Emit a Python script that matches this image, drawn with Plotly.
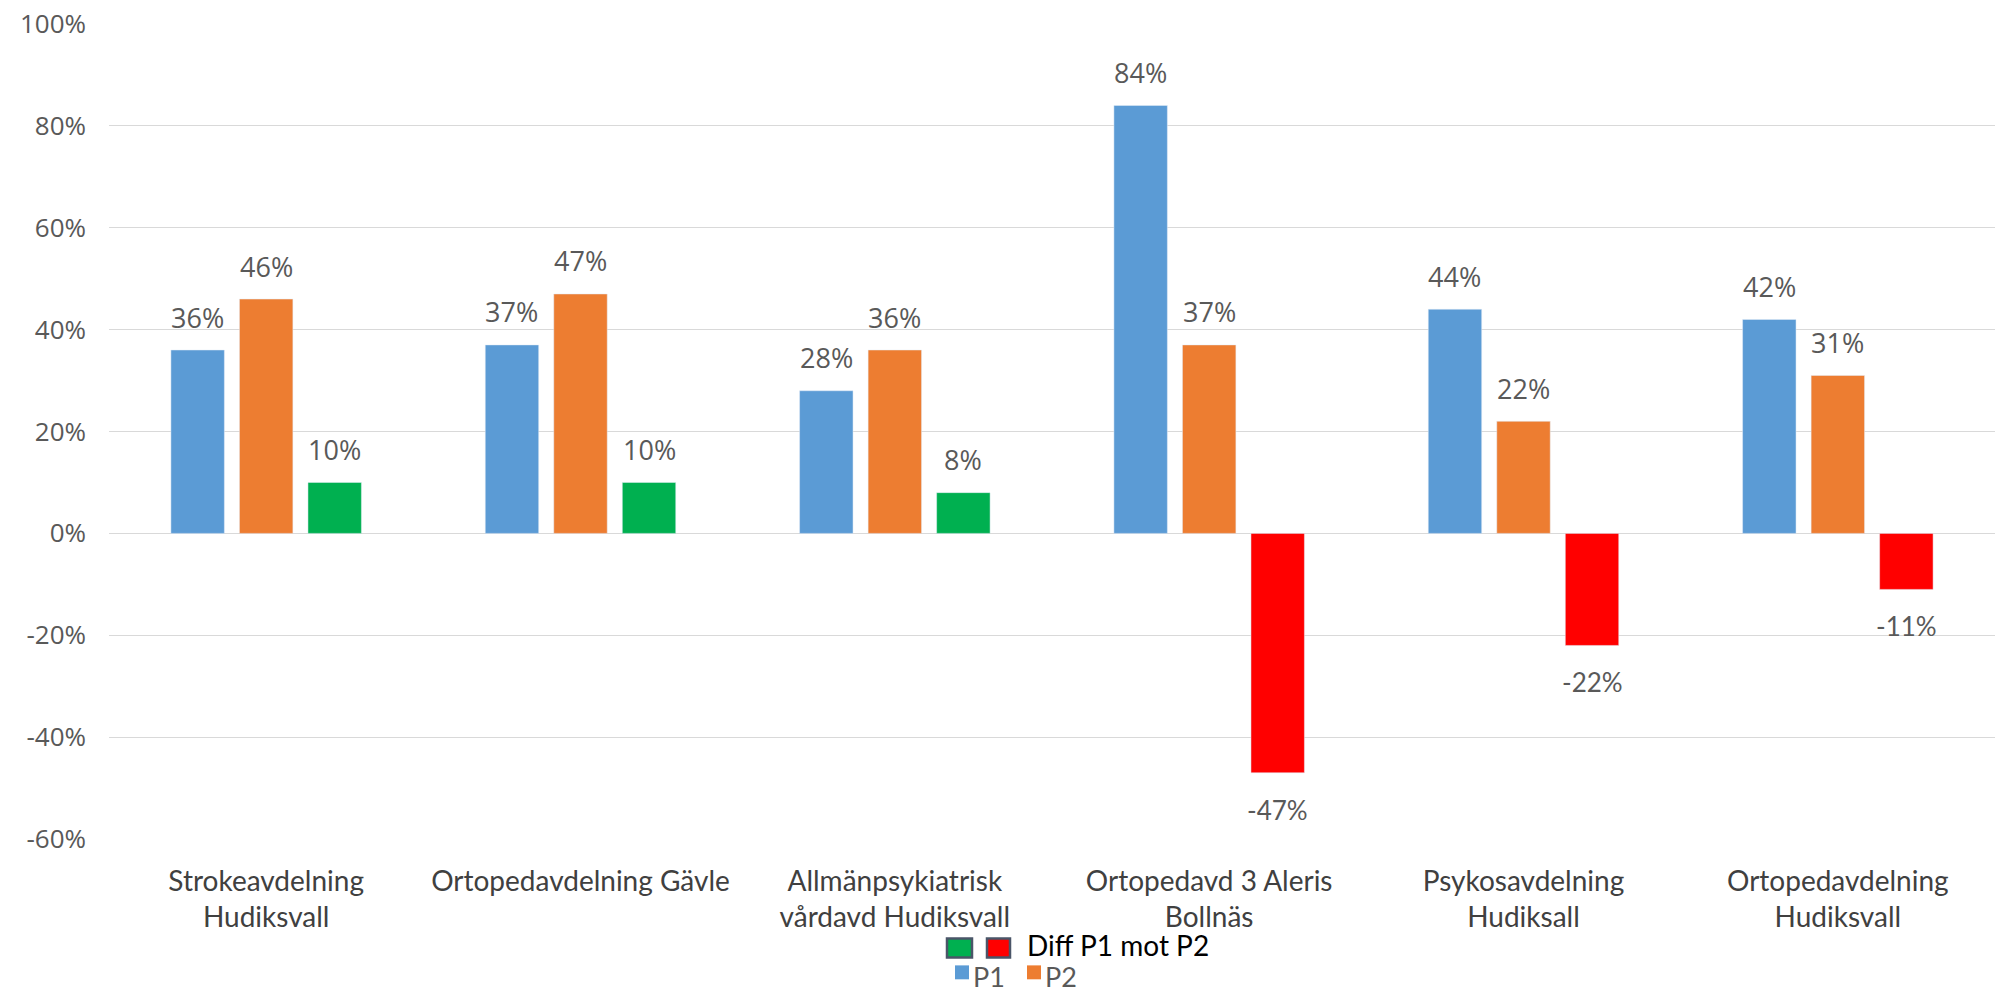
import plotly.graph_objects as go

categories = [
    "Strokeavdelning<br>Hudiksvall",
    "Ortopedavdelning Gävle",
    "Allmänpsykiatrisk<br>vårdavd Hudiksvall",
    "Ortopedavd 3 Aleris<br>Bollnäs",
    "Psykosavdelning<br>Hudiksall",
    "Ortopedavdelning<br>Hudiksvall",
]
p1 = [36, 37, 28, 84, 44, 42]
p2 = [46, 47, 36, 37, 22, 31]
diff = [10, 10, 8, -47, -22, -11]
y_ticks = [-60, -40, -20, 0, 20, 40, 60, 80, 100]
y_tick_labels = [f"{v}%" for v in y_ticks]
series_names = ["P1", "P2", "Diff P1 mot P2"]

BLUE = "#5B9BD5"
ORANGE = "#ED7D31"
GREEN = "#00B050"
RED = "#FF0000"
GRID = "#D9D9D9"
LABEL = "#595959"
BORDER = "#4A5568"

BAR_W = 0.17
OFFS = [-0.303, -0.085, 0.133]

# figure / plot area in pixels (used for placing the drawn legend)
W, H = 2000, 993
ML, MR, MT, MB = 109, 5, 20, 154
PW, PH = W - ML - MR, H - MT - MB


def px(x):
    return (x - ML) / PW


def py(y):
    return (H - MB - y) / PH


fig = go.Figure()
fig.add_trace(go.Bar(x=categories, y=p1, name=series_names[0], width=BAR_W, offset=OFFS[0],
                     marker=dict(color=BLUE), hoverinfo="skip"))
fig.add_trace(go.Bar(x=categories, y=p2, name=series_names[1], width=BAR_W, offset=OFFS[1],
                     marker=dict(color=ORANGE), hoverinfo="skip"))
fig.add_trace(go.Bar(x=categories, y=diff, name=series_names[2], width=BAR_W, offset=OFFS[2],
                     marker=dict(color=[GREEN if v >= 0 else RED for v in diff]),
                     hoverinfo="skip"))

annotations = []
for series, off in ((p1, OFFS[0]), (p2, OFFS[1]), (diff, OFFS[2])):
    for i, v in enumerate(series):
        pos = v >= 0
        annotations.append(dict(
            x=i + off + BAR_W / 2, y=v, xref="x", yref="y",
            text=f"{v}%", showarrow=False, yanchor="middle",
            yshift=33 if pos else -37,
            font=dict(family="Open Sans" if pos else "Lato", size=27 if pos else 26, color=LABEL),
        ))

# legend (drawn): row 1 = diff series (green/red), row 2 = P1, P2
annotations += [
    dict(x=px(1026), y=py(946), xref="paper", yref="paper", xanchor="left", yanchor="middle",
         text=series_names[2], showarrow=False, borderpad=0,
         font=dict(family="Lato", size=28, color="black")),
    dict(x=px(972), y=py(977), xref="paper", yref="paper", xanchor="left", yanchor="middle",
         text=series_names[0], showarrow=False, borderpad=0,
         font=dict(family="Lato", size=27, color=LABEL)),
    dict(x=px(1044), y=py(977), xref="paper", yref="paper", xanchor="left", yanchor="middle",
         text=series_names[1], showarrow=False, borderpad=0,
         font=dict(family="Lato", size=27, color=LABEL)),
]
shapes = [
    dict(type="rect", xref="paper", yref="paper", x0=px(947), x1=px(972), y0=py(958), y1=py(939),
         fillcolor=GREEN, line=dict(color=BORDER, width=2.5)),
    dict(type="rect", xref="paper", yref="paper", x0=px(987), x1=px(1010), y0=py(958), y1=py(939),
         fillcolor=RED, line=dict(color=BORDER, width=2.5)),
    dict(type="rect", xref="paper", yref="paper", x0=px(955), x1=px(969), y0=py(980), y1=py(966),
         fillcolor=BLUE, line=dict(width=0)),
    dict(type="rect", xref="paper", yref="paper", x0=px(1027), x1=px(1041), y0=py(980), y1=py(966),
         fillcolor=ORANGE, line=dict(width=0)),
]

fig.update_layout(
    width=W, height=H,
    margin=dict(l=ML, r=MR, t=MT, b=MB),
    paper_bgcolor="white", plot_bgcolor="white",
    barmode="overlay",
    showlegend=False,
    annotations=annotations,
    shapes=shapes,
    xaxis=dict(
        type="category", showgrid=False, showline=False, ticks="",
        tickfont=dict(family="Lato", size=28, color="#404040"),
        ticklabelstandoff=23,
    ),
    yaxis=dict(
        range=[-60, 100], tickvals=y_ticks, ticktext=y_tick_labels,
        showgrid=True, gridcolor=GRID, gridwidth=1.3,
        zeroline=True, zerolinecolor=GRID, zerolinewidth=1.3,
        showline=False, ticks="",
        tickfont=dict(family="Open Sans", size=26, color=LABEL),
        ticklabelstandoff=22,
    ),
)

fig.write_html("out.html")
